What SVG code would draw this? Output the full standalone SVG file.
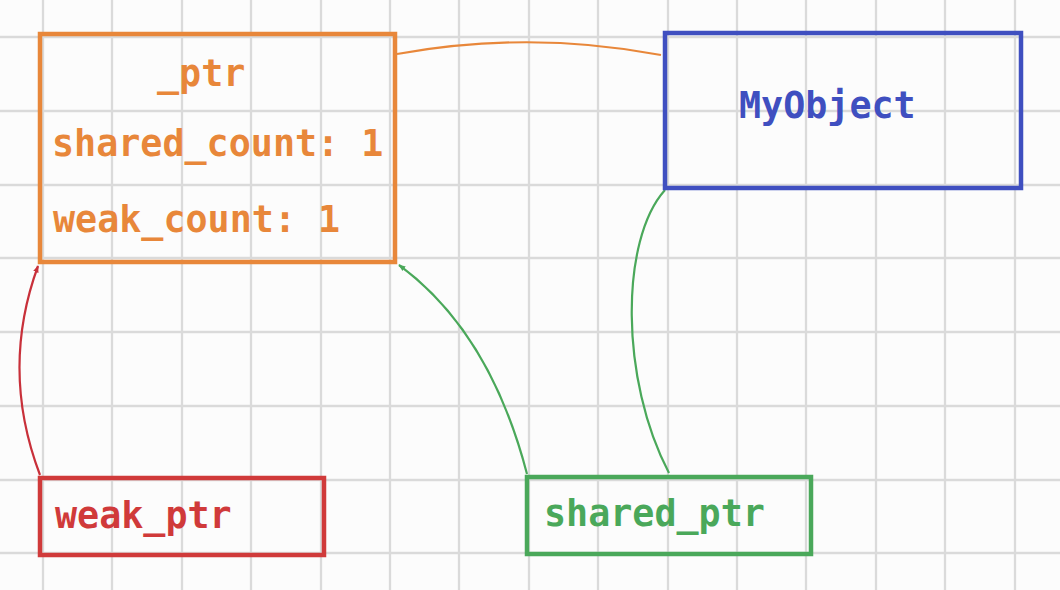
<svg xmlns="http://www.w3.org/2000/svg" width="1060" height="590" viewBox="0 0 1060 590">
<defs>
<style>
.grid line{stroke:#dadada;stroke-width:2.3}
.box{fill:none;stroke-width:4.5}
.t{font-family:"DejaVu Sans Mono","Liberation Mono",monospace;font-weight:bold;font-size:36.7px}
.c{fill:none;stroke-width:2.2}
</style>
<marker id="ag" viewBox="0 0 10 10" refX="9" refY="5" markerWidth="7" markerHeight="7" orient="auto" markerUnits="userSpaceOnUse">
<path d="M0,1 L10,5 L0,9 z" fill="#4aa85a"/>
</marker>
<marker id="arr" viewBox="0 0 10 10" refX="9" refY="5" markerWidth="7" markerHeight="7" orient="auto" markerUnits="userSpaceOnUse">
<path d="M0,1 L10,5 L0,9 z" fill="#c8303a"/>
</marker>
</defs>
<rect width="1060" height="590" fill="#fcfcfc"/>
<g class="grid">
<line x1="43" y1="0" x2="43" y2="590"/>
<line x1="112" y1="0" x2="112" y2="590"/>
<line x1="182" y1="0" x2="182" y2="590"/>
<line x1="251" y1="0" x2="251" y2="590"/>
<line x1="321" y1="0" x2="321" y2="590"/>
<line x1="390" y1="0" x2="390" y2="590"/>
<line x1="459" y1="0" x2="459" y2="590"/>
<line x1="529" y1="0" x2="529" y2="590"/>
<line x1="598" y1="0" x2="598" y2="590"/>
<line x1="668" y1="0" x2="668" y2="590"/>
<line x1="737" y1="0" x2="737" y2="590"/>
<line x1="806" y1="0" x2="806" y2="590"/>
<line x1="876" y1="0" x2="876" y2="590"/>
<line x1="945" y1="0" x2="945" y2="590"/>
<line x1="1015" y1="0" x2="1015" y2="590"/>
<line x1="0" y1="37" x2="1060" y2="37"/>
<line x1="0" y1="111" x2="1060" y2="111"/>
<line x1="0" y1="185" x2="1060" y2="185"/>
<line x1="0" y1="258" x2="1060" y2="258"/>
<line x1="0" y1="332" x2="1060" y2="332"/>
<line x1="0" y1="406" x2="1060" y2="406"/>
<line x1="0" y1="480" x2="1060" y2="480"/>
<line x1="0" y1="553" x2="1060" y2="553"/>
</g>
<g id="connectors">
<path class="c" d="M397,54 Q530,30 661,55" stroke="#e8873a"/>
<path class="c" d="M40,475 Q0,370 38,266" stroke="#c8303a" marker-end="url(#arr)"/>
<path class="c" d="M527,474 Q490,332 399,265" stroke="#4aa85a" marker-end="url(#ag)"/>
<path class="c" d="M669,473 C620,380 620,240 665,190" stroke="#4aa85a"/>
</g>
<g id="ctrl">
<rect class="box" x="40" y="34" width="355" height="228" stroke="#e8873a"/>
<text class="t" x="157" y="86" fill="#e8873a">_ptr</text>
<text class="t" x="52" y="156" fill="#e8873a">shared_count: 1</text>
<text class="t" x="53" y="232" fill="#e8873a">weak_count: 1</text>
</g>
<g id="myobject">
<rect class="box" x="665" y="33" width="356" height="155" stroke="#3f4fc0"/>
<text class="t" x="739" y="118" fill="#3f4fc0">MyObject</text>
</g>
<g id="weak_ptr">
<rect class="box" x="40" y="478" width="284" height="77" stroke="#d03a3a"/>
<text class="t" x="55" y="528" fill="#d03a3a">weak_ptr</text>
</g>
<g id="shared_ptr">
<rect class="box" x="527" y="477" width="284" height="77" stroke="#4aa85a"/>
<text class="t" x="544" y="526" fill="#4aa85a">shared_ptr</text>
</g>
</svg>
